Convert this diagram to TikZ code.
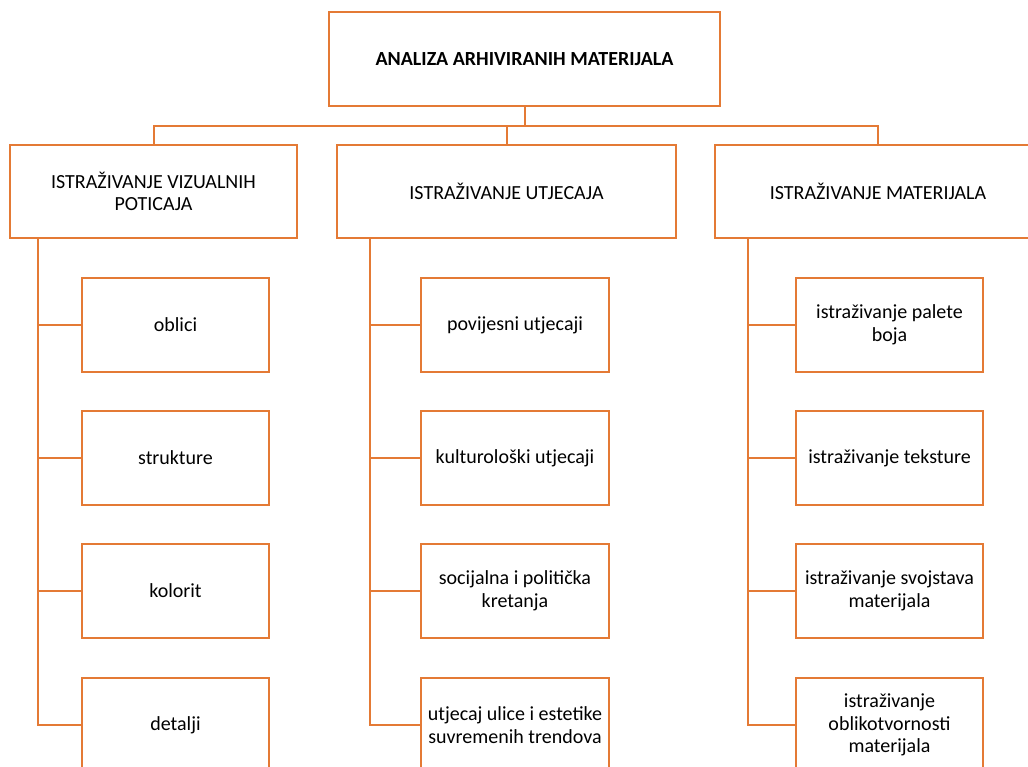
\documentclass[tikz,border=0pt]{standalone}
\usepackage{fontspec}
\setmainfont{Carlito}
\definecolor{org}{HTML}{E47A35}
\begin{document}
\begin{tikzpicture}[x=1pt,y=-1pt,
  box/.style={draw=org,line width=2pt,fill=white,align=center,inner sep=2pt,font=\fontsize{20}{22.5}\selectfont},
  con/.style={draw=org,line width=2pt}]
\useasboundingbox (0,0) rectangle (1028,767);
\clip (0,0) rectangle (1028,767);
\node[box,minimum width=391pt,minimum height=94pt,font=\fontsize{20}{22.5}\selectfont\bfseries] (top) at (524.5,59) {ANALIZA ARHIVIRANIH MATERIJALA};
\node[box,minimum width=287pt,minimum height=93pt] (a) at (153.5,191.5) {ISTRAŽIVANJE VIZUALNIH\\POTICAJA};
\node[box,minimum width=339pt,minimum height=93pt] (b) at (506.5,191.5) {ISTRAŽIVANJE UTJECAJA};
\node[box,minimum width=326pt,minimum height=93pt] (c) at (878,191.5) {ISTRAŽIVANJE MATERIJALA};
% left children
\node[box,minimum width=187pt,minimum height=94pt] (a1) at (175.5,325) {oblici};
\node[box,minimum width=187pt,minimum height=94pt] (a2) at (175.5,458) {strukture};
\node[box,minimum width=187pt,minimum height=94pt] (a3) at (175.5,591) {kolorit};
\node[box,minimum width=187pt,minimum height=94pt] (a4) at (175.5,725) {detalji};
% middle children
\node[box,minimum width=188pt,minimum height=94pt] (b1) at (515,325) {povijesni utjecaji};
\node[box,minimum width=188pt,minimum height=94pt] (b2) at (515,458) {kulturološki utjecaji};
\node[box,minimum width=188pt,minimum height=94pt] (b3) at (515,591) {socijalna i politička\\kretanja};
\node[box,minimum width=188pt,minimum height=94pt] (b4) at (515,725) {utjecaj ulice i estetike\\suvremenih trendova};
% right children
\node[box,minimum width=187pt,minimum height=94pt] (c1) at (889.5,325) {istraživanje palete\\boja};
\node[box,minimum width=187pt,minimum height=94pt] (c2) at (889.5,458) {istraživanje teksture};
\node[box,minimum width=187pt,minimum height=94pt] (c3) at (889.5,591) {istraživanje svojstava\\materijala};
\node[box,minimum width=187pt,minimum height=94pt] (c4) at (889.5,725) {istraživanje\\oblikotvornosti\\materijala};
% bus
\coordinate (bus) at (524.5,126);
\draw[con] (top.south) -- (bus);
\draw[con] (a.north) -- (a.north |- bus) -- (c.north |- bus) -- (c.north);
\draw[con] (b.north) -- (b.north |- bus);
% trunks
\coordinate (ta) at ([xshift=29pt]a.south west);
\coordinate (tb) at ([xshift=34pt]b.south west);
\coordinate (tc) at ([xshift=34pt]c.south west);
\draw[con] (ta) |- (a4.west);
\draw[con] (a1.west) -- (a1.west -| ta);
\draw[con] (a2.west) -- (a2.west -| ta);
\draw[con] (a3.west) -- (a3.west -| ta);
\draw[con] (tb) |- (b4.west);
\draw[con] (b1.west) -- (b1.west -| tb);
\draw[con] (b2.west) -- (b2.west -| tb);
\draw[con] (b3.west) -- (b3.west -| tb);
\draw[con] (tc) |- (c4.west);
\draw[con] (c1.west) -- (c1.west -| tc);
\draw[con] (c2.west) -- (c2.west -| tc);
\draw[con] (c3.west) -- (c3.west -| tc);
\end{tikzpicture}
\end{document}
